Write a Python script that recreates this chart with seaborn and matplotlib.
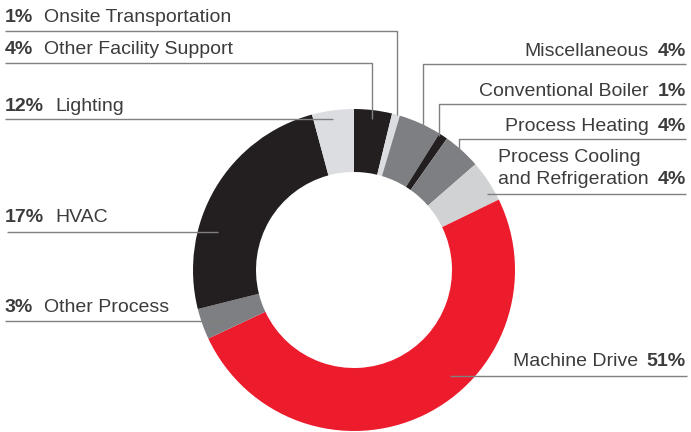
import matplotlib
matplotlib.use("Agg")
import matplotlib.pyplot as plt
import seaborn as sns

# ---- data (clockwise from 12 o'clock) ----
categories = ["Other Facility Support", "Onsite Transportation", "Miscellaneous",
              "Conventional Boiler", "Process Heating", "Process Cooling\nand Refrigeration",
              "Machine Drive", "Other Process", "HVAC", "Lighting"]
label_pct = ["4%", "1%", "4%", "1%", "4%", "4%", "51%", "3%", "17%", "12%"]
# slice sizes as drawn in the picture (share of the ring, %)
slice_share = [3.8, 0.8, 4.3, 0.9, 3.8, 4.2, 50.2, 3.1, 24.7, 4.2]

BLACK, GRAY, LIGHT, LIGHT2, RED = "#231f20", "#7d7f82", "#dcdde0", "#d0d2d3", "#ec1c2d"
slice_colors = [BLACK, LIGHT, GRAY, BLACK, GRAY, LIGHT2, RED, GRAY, BLACK, LIGHT]

W, H = 691, 432
sns.set_theme(style="white")
plt.rcParams['font.family'] = ['Liberation Sans', 'DejaVu Sans']

fig = plt.figure(figsize=(W / 100, H / 100), dpi=100)
ax = fig.add_axes([0, 0, 1, 1])


def py(y):
    return H - y


ax.pie(slice_share, colors=slice_colors, startangle=90, counterclock=False,
       center=(354, py(270)), radius=161,
       wedgeprops=dict(width=63, linewidth=0))
ax.set_xlim(0, W)
ax.set_ylim(0, H)
ax.set_aspect('equal')
ax.axis('off')

LINE_C = "#808080"
TXT_C = "#3c3c3c"
FS = 14

# layout: category index -> (side, baseline(s), line_y, x_from, x_to, vertical_end)
layout = {
    1: ("L", [22], 30.5, 5, 397, 115),
    0: ("L", [54.5], 63, 5, 372, 119),
    9: ("L", [111], 119, 5, 333, None),
    8: ("L", [222.5], 232, 7, 218, None),
    7: ("L", [311.5], 320.5, 5, 226, None),
    2: ("R", [56], 63.5, 423, 686, 133),
    3: ("R", [96.5], 104, 439, 686, 136),
    4: ("R", [131], 139, 459, 686, 156),
    5: ("R", [161.5, 184], 194, 487, 686, None),
    6: ("R", [366.5], 376, 450, 687, None),
}

fig.canvas.draw()
renderer = fig.canvas.get_renderer()

for i, (side, bases, ly, x0, x1, vend) in layout.items():
    # leader line
    if side == "L":
        xs, ys = [x0, x1], [ly, ly]
        if vend is not None:
            xs.append(x1)
            ys.append(vend)
    else:
        xs, ys = [x1, x0], [ly, ly]
        if vend is not None:
            xs.append(x0)
            ys.append(vend)
    ax.plot(xs, [py(v) for v in ys], color=LINE_C, lw=1.0, solid_capstyle="butt")

    lines = categories[i].split("\n")
    if side == "L":
        t = ax.text(5, py(bases[0]), label_pct[i], fontsize=FS, fontweight="bold",
                    color=TXT_C, ha="left", va="baseline")
        bb = t.get_window_extent(renderer)
        ax.text(bb.x1 + 11, py(bases[0]), lines[0], fontsize=FS, color=TXT_C,
                ha="left", va="baseline")
    else:
        t = ax.text(686, py(bases[-1]), label_pct[i], fontsize=FS, fontweight="bold",
                    color=TXT_C, ha="right", va="baseline")
        bb = t.get_window_extent(renderer)
        last = ax.text(bb.x0 - 9, py(bases[-1]), lines[-1], fontsize=FS, color=TXT_C,
                       ha="right", va="baseline")
        lb = last.get_window_extent(renderer)
        for k, ln in enumerate(lines[:-1]):
            ax.text(lb.x0, py(bases[k]), ln, fontsize=FS, color=TXT_C,
                    ha="left", va="baseline")

fig.savefig("out.png", dpi=100)
